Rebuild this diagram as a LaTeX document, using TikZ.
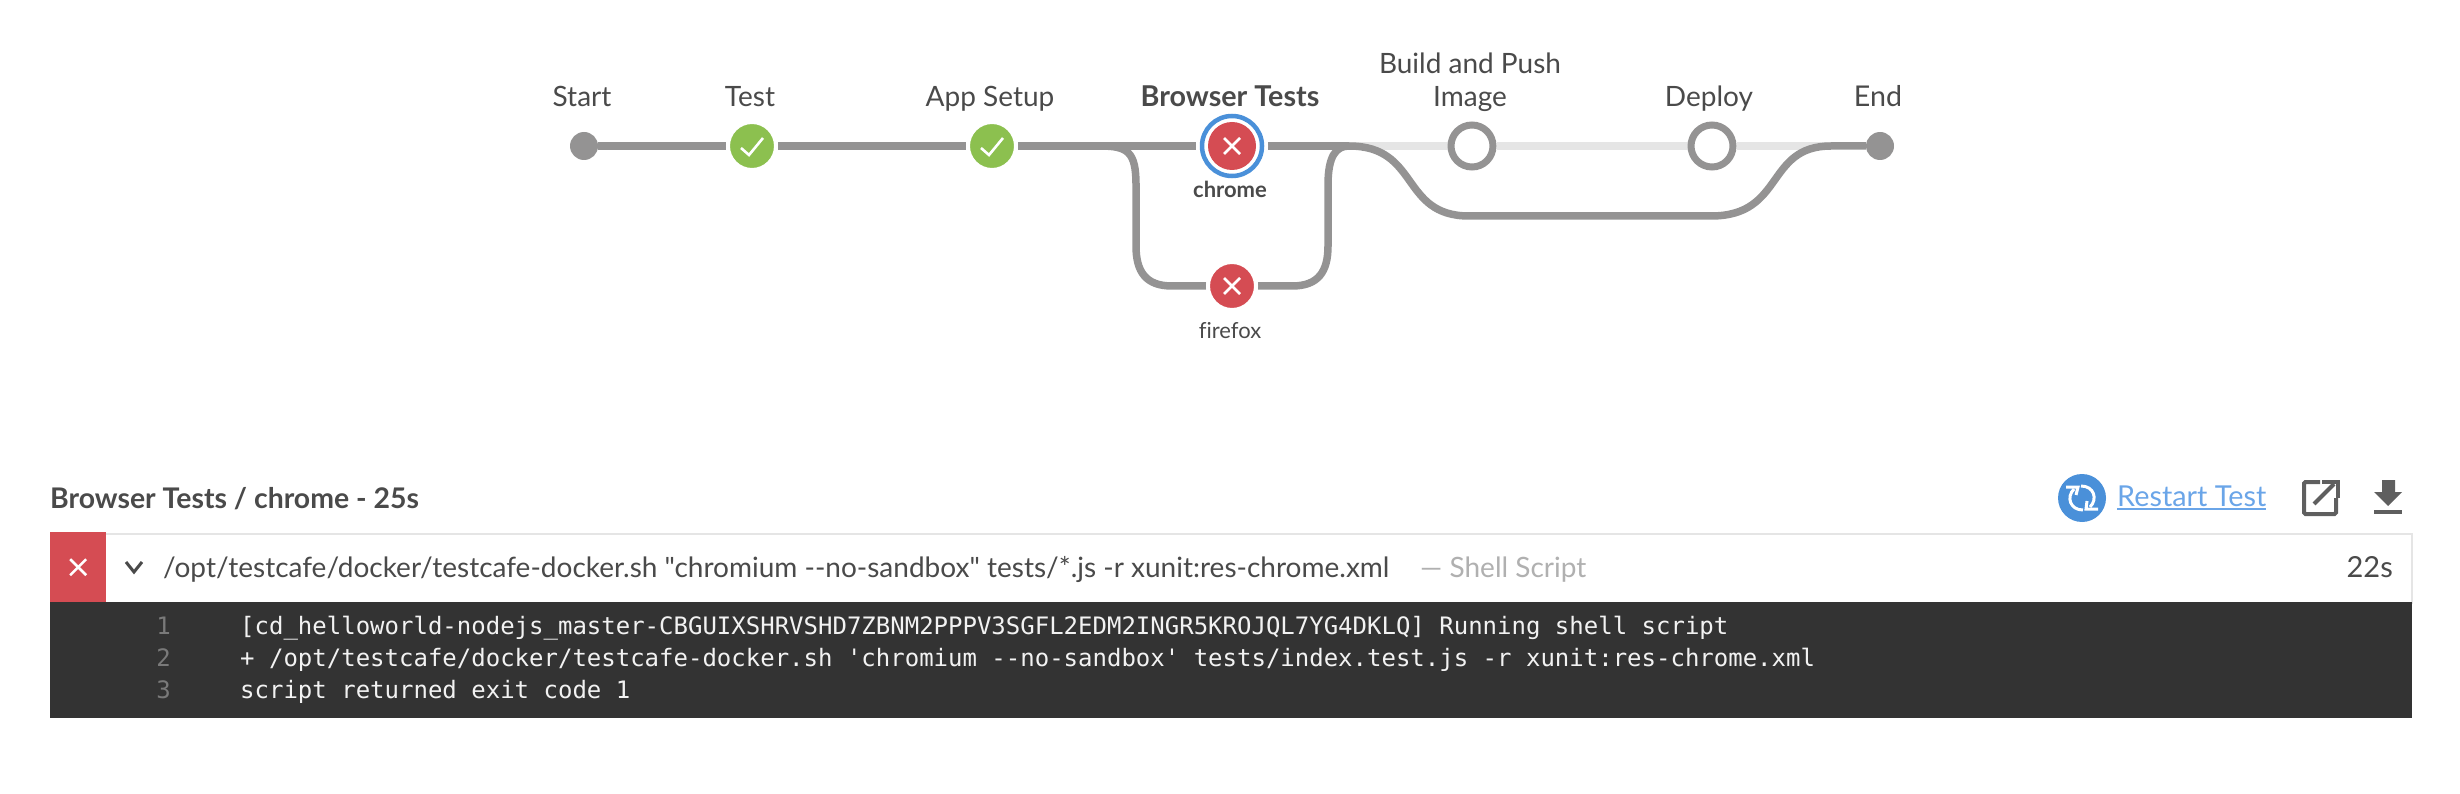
\documentclass[tikz,border=0pt]{standalone}
\usepackage{fontspec}
\setmainfont{Lato}[Ligatures={TeXOff,NoCommon}]
\newfontfamily\codefont{DejaVu Sans Mono}[Ligatures={TeXOff,NoCommon}]
\usetikzlibrary{backgrounds}
\definecolor{txt}{HTML}{4A4A4A}
\definecolor{pipe}{HTML}{949393}
\definecolor{faint}{HTML}{E5E5E5}
\definecolor{okgreen}{HTML}{8CC04F}
\definecolor{failred}{HTML}{D54C53}
\definecolor{selblue}{HTML}{4A90D9}
\definecolor{linkblue}{HTML}{6AA5E8}
\definecolor{console}{HTML}{333333}
\definecolor{lineno}{HTML}{7A7A7A}
\definecolor{codetxt}{HTML}{F2F2F2}
\definecolor{icon}{HTML}{5F5F5F}
\definecolor{muted}{HTML}{B0B0B0}
\tikzset{
  x=1pt,y=-1pt,
  pipeline/.style={line width=7.5pt,draw=pipe},
  fainted/.style={line width=7.5pt,draw=faint},
  endpoint/.style={circle,fill=pipe,inner sep=0pt,minimum size=28pt},
  donestage/.style={circle,fill=okgreen,draw=white,line width=4pt,inner sep=0pt,minimum size=48pt},
  failstage/.style={circle,fill=failred,draw=white,line width=4pt,inner sep=0pt,minimum size=48pt},
  idlestage/.style={circle,fill=white,draw=pipe,line width=7pt,inner sep=0pt,minimum size=42pt},
  glyph/.style={draw=white,line width=2.6pt},
  stagelabel/.style={anchor=base,text=txt,inner sep=0pt,font=\fontsize{28}{34}\selectfont},
  sublabel/.style={anchor=base,text=txt,inner sep=0pt,font=\fontsize{22}{26}\selectfont},
  bartext/.style={anchor=base west,text=txt,inner sep=0pt,font=\fontsize{28}{32}\selectfont},
  code/.style={anchor=base west,text=codetxt,inner sep=0pt,font=\codefont\fontsize{24}{28}\selectfont},
  num/.style={anchor=base east,text=lineno,inner sep=0pt,font=\codefont\fontsize{24}{28}\selectfont},
}
\begin{document}
\begin{tikzpicture}
\useasboundingbox (0,0) rectangle (2460,794);
% stages
\node[endpoint] (start) at (584,146) {};
\node[donestage] (test) at (752,146) {};
\node[donestage] (app) at (992,146) {};
\node[circle,fill=white,inner sep=0pt,minimum size=72pt] (halo) at (1232,146) {};
\node[circle,draw=selblue,line width=4.5pt,fill=white,inner sep=0pt,minimum size=60pt] (ring) at (1232,146) {};
\node[circle,fill=failred,inner sep=0pt,minimum size=48pt] (chrome) at (1232,146) {};
\node[failstage] (firefox) at (1232,286) {};
\node[idlestage] (build) at (1472,146) {};
\node[idlestage] (deploy) at (1712,146) {};
\node[endpoint] (end) at (1880,146) {};
% waypoints
\coordinate (sa) at (1100,146);
\coordinate (sb) at (1136,185);
\coordinate (sc) at (1136,246);
\coordinate (sd) at (1172,286);
\coordinate (ma) at (1292,286);
\coordinate (mb) at (1328,246);
\coordinate (mc) at (1328,185);
\coordinate (md) at (1349,146);
\coordinate (la) at (1469,216);
\coordinate (lb) at (1711,216);
\coordinate (lc) at (1831,146);
\begin{scope}[on background layer]
  \draw[fainted] (md) -- (build);
  \draw[fainted] (build) -- (deploy);
  \draw[fainted] (deploy) -- (lc);
  \draw[pipeline] (start) -- (test);
  \draw[pipeline] (test) -- (app);
  \draw[pipeline] (app) -- (halo);
  \draw[pipeline] (halo) -- (md);
  \draw[pipeline] (sa) .. controls (1128,146) and (1136,152) .. (sb) -- (sc) .. controls (1136,272) and (1146,286) .. (sd) -- (firefox);
  \draw[pipeline] (firefox) -- (ma) .. controls (1318,286) and (1328,272) .. (mb) -- (mc) .. controls (1328,156) and (1336,146) .. (md);
  \draw[pipeline] (md) .. controls (1420,146) and (1400,216) .. (la) -- (lb) .. controls (1785,216) and (1765,146) .. (lc) -- (end);
\end{scope}
% glyphs
\foreach \n in {test,app}{
  \draw[glyph,line join=miter] ([shift={(-11,2)}]\n.center) -- ([shift={(-3,9)}]\n.center) -- ([shift={(11,-8)}]\n.center);
}
\foreach \n in {chrome,firefox}{
  \draw[glyph] ([shift={(-8,-8)}]\n.center) -- ([shift={(8,8)}]\n.center);
  \draw[glyph] ([shift={(8,-8)}]\n.center) -- ([shift={(-8,8)}]\n.center);
}
% labels
\node[stagelabel] (lstart) at (582,106.5) {Start};
\node[stagelabel] (ltest) at (750,106.5) {Test};
\node[stagelabel] (lapp) at (990,106.5) {App Setup};
\node[stagelabel,font=\fontsize{28.7}{34}\selectfont\bfseries] (lbrowser) at (1230,106.5) {Browser Tests};
\node[stagelabel] (lbuild) at (1470,74) {Build and Push};
\node[stagelabel] (limage) at (1470,106.5) {Image};
\node[stagelabel] (ldeploy) at (1709,106.5) {Deploy};
\node[stagelabel,font=\fontsize{28.6}{34}\selectfont] (lend) at (1878,106.5) {End};
\node[sublabel,font=\fontsize{22}{26}\selectfont\bfseries] (lchrome) at (1230,198) {chrome};
\node[sublabel] (lfirefox) at (1230,338) {firefox};
% header
\node[bartext,font=\fontsize{28.4}{32}\selectfont\bfseries] (title) at (50,508) {Browser Tests / chrome - 25s};
\node[circle,fill=selblue,inner sep=0pt,minimum size=48pt] (restart) at (2082,498) {};
\draw[white,line width=3pt] (2074,489) .. controls (2066,497) and (2070,510) .. (2083,510);
\draw[white,line width=3pt] (2090,507) .. controls (2098,499) and (2094,486) .. (2081,486);
\draw[white,line width=3pt] (2066,487) -- (2078,487) -- (2076,495);
\draw[white,line width=3pt] (2098,509) -- (2086,509) -- (2087,501);
\node[anchor=base west,text=linkblue,inner sep=0pt,font=\fontsize{28.8}{32}\selectfont] (rtext) at (2117,506) {Restart Test};
\draw[linkblue,line width=2pt] (rtext.base west)++(0,3) -- ++(149,0);
\draw[icon,line width=4pt,rounded corners=1.5pt] (2320,482) -- (2304,482) -- (2304,514) -- (2336,514) -- (2336,498);
\draw[icon,line width=4pt] (2314,504) -- (2334,484);
\draw[icon,line width=4pt] (2322,482) -- (2338,482) -- (2338,498);
\fill[icon] (2382,480) -- (2395,480) -- (2395,492) -- (2402,492) -- (2388,506) -- (2374,492) -- (2382,492) -- cycle;
\fill[icon] (2374,510) rectangle (2402,514);
% step bar
\node[draw=faint,fill=white,line width=2pt,minimum width=2360pt,minimum height=69pt,inner sep=0pt,anchor=north west] (bar) at (51,533) {};
\node[fill=failred,minimum width=56pt,minimum height=70pt,inner sep=0pt,anchor=north west] (status) at (50,532) {};
\node[fill=console,minimum width=2362pt,minimum height=116pt,inner sep=0pt,anchor=north west] (log) at (50,602) {};
\draw[glyph] ([shift={(-8,-8)}]status.center) -- ([shift={(8,8)}]status.center);
\draw[glyph] ([shift={(8,-8)}]status.center) -- ([shift={(-8,8)}]status.center);
\draw[txt,line width=3pt] (126,562) -- (134,572) -- (142,562);
\node[bartext] (cmd) at (163,577.5) {/opt/testcafe/docker/testcafe-docker.sh "chromium --no-sandbox" tests/*.js -r xunit:res-chrome.xml};
\node[bartext,text=muted] (kind) at (1420,577.5) {— Shell Script};
\node[anchor=base east,text=txt,inner sep=0pt,font=\fontsize{29}{32}\selectfont] (dur) at (2393,577.5) {22s};
\node[num] (n1) at (171,634.5) {1};
\node[num] (n2) at (171,666.5) {2};
\node[num] (n3) at (171,698) {3};
\node[code] (c1) at (240,634.5) {[cd\_helloworld-nodejs\_master-CBGUIXSHRVSHD7ZBNM2PPPV3SGFL2EDM2INGR5KROJQL7YG4DKLQ] Running shell script};
\node[code] (c2) at (240,666.5) {+ /opt/testcafe/docker/testcafe-docker.sh 'chromium --no-sandbox' tests/index.test.js -r xunit:res-chrome.xml};
\node[code] (c3) at (240,698) {script returned exit code 1};
\end{tikzpicture}
\end{document}
